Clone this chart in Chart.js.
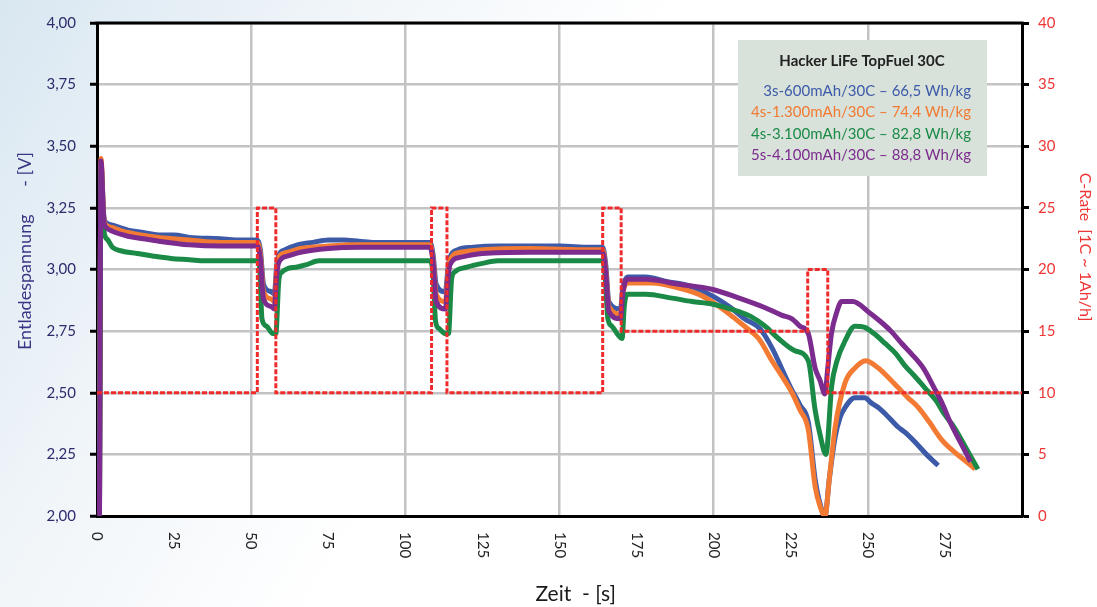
<!DOCTYPE html>
<html>
<head>
<meta charset="utf-8">
<script src="https://cdn.jsdelivr.net/npm/chart.js@4/dist/chart.umd.min.js"></script>
<style>
  html, body { margin: 0; padding: 0; background: #fff; }
  canvas { display: block; }
</style>
</head>
<body>
<canvas id="chart1" width="1097" height="607"></canvas>
<script>
// x tick labels (seconds)
const xTicks = [0, 25, 50, 75, 100, 125, 150, 175, 200, 225, 250, 275];

// [time s, voltage V]
const pack600 = [[0.8,2.0],[1.3,3.43],[2.2,3.22],[3,3.19],[5,3.18],[10,3.16],[15,3.15],[20,3.14],[25,3.14],[30,3.13],[40,3.125],[45,3.12],[52,3.12],
  [53,3.08],[54,2.94],[56.5,2.91],[57.5,2.90],[58.3,3.02],[59,3.06],[61,3.08],[65,3.10],[70,3.11],[75,3.12],[80,3.12],[85,3.115],[90,3.11],[100,3.11],[108,3.11],
  [109,3.06],[110,2.94],[113,2.91],[113.8,3.0],[114.5,3.05],[117,3.08],[122,3.09],[130,3.095],[140,3.095],[150,3.095],[160,3.09],[164,3.09],
  [165,3.02],[166,2.87],[169.8,2.84],[170.5,2.92],[172,2.97],[178,2.97],[185,2.95],[190,2.94],[195,2.92],[200,2.89],[205,2.85],[210,2.80],[215,2.76],
  [219,2.68],[222,2.60],[225,2.52],[228,2.45],[230.7,2.38],[232.9,2.15],[234.5,2.05],[236.1,2.0],[237.5,2.15],[239.4,2.32],[241,2.40],[242.6,2.44],
  [245.8,2.48],[249,2.48],[251,2.46],[253.4,2.44],[256,2.41],[259.9,2.36],[262,2.34],[265.3,2.30],[269,2.25],[272.8,2.205]];

const pack1300 = [[0.8,2.0],[1.3,3.45],[2.2,3.21],[3,3.18],[5,3.17],[10,3.15],[20,3.13],[30,3.12],[40,3.11],[52,3.11],
  [53,3.06],[54,2.91],[56.5,2.88],[57.5,2.87],[58.3,3.0],[59,3.05],[62,3.07],[66,3.085],[75,3.095],[85,3.10],[100,3.10],[108,3.10],
  [109,3.04],[110,2.90],[113,2.87],[113.8,2.98],[114.5,3.04],[118,3.07],[125,3.08],[140,3.085],[160,3.08],[164,3.08],
  [165,3.0],[166,2.85],[169.8,2.82],[170.5,2.90],[172,2.945],[180,2.945],[188.7,2.925],[195,2.90],[199.4,2.87],[204,2.83],[208,2.79],[211,2.76],
  [214.6,2.72],[218.9,2.63],[222,2.57],[225.4,2.50],[228,2.43],[230.7,2.35],[232.9,2.12],[234.5,2.04],[236.1,2.0],[237.5,2.15],[239.4,2.36],
  [242.6,2.54],[245.8,2.60],[249.3,2.63],[253.4,2.60],[256,2.57],[259.9,2.52],[263,2.48],[266.4,2.44],[270,2.38],[273.9,2.31],[278,2.26],[282,2.22],[284.8,2.19]];

const pack3100 = [[0.8,2.0],[1.3,3.40],[2.2,3.16],[3.5,3.12],[5,3.09],[8,3.075],[13,3.065],[18,3.055],[24,3.045],[30,3.04],[35,3.035],[52,3.035],
  [52.8,3.0],[53.5,2.80],[55,2.77],[57,2.74],[58,2.74],[59,2.96],[60,2.99],[62,3.005],[65,3.01],[68,3.02],[72,3.035],[80,3.035],[100,3.035],[108,3.035],
  [109,2.98],[109.8,2.79],[111,2.76],[113,2.74],[114,2.74],[115,2.96],[116,2.99],[120,3.01],[125,3.025],[130,3.035],[164,3.035],
  [164.8,2.97],[165.7,2.80],[167,2.77],[170.3,2.72],[171,2.85],[172,2.90],[178,2.90],[186.5,2.884],[193,2.87],[199.4,2.86],[204,2.845],[208,2.83],
  [212,2.81],[216.7,2.77],[221,2.72],[226.4,2.67],[230.7,2.63],[232.9,2.43],[234.5,2.33],[236.4,2.25],[238.3,2.53],[240,2.63],[242.6,2.71],
  [245.8,2.77],[249,2.765],[252,2.74],[255.6,2.70],[259,2.66],[262,2.61],[265,2.57],[268.5,2.52],[272,2.47],[275,2.41],[278,2.36],[280.3,2.31],[283,2.25],[285.7,2.19]];

const pack4100 = [[0.8,2.0],[1.3,3.44],[2.2,3.20],[3,3.17],[5,3.155],[10,3.135],[15,3.125],[20,3.115],[30,3.10],[40,3.095],[52,3.095],
  [53,3.04],[54,2.88],[56.5,2.85],[57.5,2.84],[58.3,2.98],[59,3.03],[62,3.055],[66,3.07],[75,3.085],[85,3.09],[100,3.09],[108,3.09],
  [109,3.03],[110,2.87],[113,2.84],[113.8,2.96],[114.5,3.02],[118,3.05],[125,3.065],[140,3.07],[160,3.07],[164,3.07],
  [165,2.99],[166,2.83],[169.8,2.80],[170.5,2.90],[172,2.96],[178,2.96],[188.7,2.94],[199.4,2.92],[208,2.885],[216.7,2.845],[222,2.815],
  [225.4,2.80],[228,2.77],[230.7,2.74],[232.9,2.60],[234.5,2.55],[236.1,2.495],[237,2.60],[238.2,2.74],[240,2.83],[241.5,2.87],[245.2,2.87],
  [250,2.83],[254,2.79],[257.5,2.75],[261,2.70],[264,2.66],[268,2.60],[271.5,2.52],[274,2.46],[276.9,2.375],[280,2.30],[283.3,2.22]];

// C-rate steps [time s, C] (value holds until next point)
const cRate = [[0,10],[52,25],[58,10],[108.5,25],[113.5,10],[164,25],[170,15],[230.5,20],[237,10],[300,10]];

const legendTitle = "Hacker LiFe TopFuel 30C";
const legendRows = [
  ["3s-600mAh/30C \u2013 66,5 Wh/kg", "#3c5aa8"],
  ["4s-1.300mAh/30C \u2013 74,4 Wh/kg", "#f27a32"],
  ["4s-3.100mAh/30C \u2013 82,8 Wh/kg", "#1b8a47"],
  ["5s-4.100mAh/30C \u2013 88,8 Wh/kg", "#7c2b8e"]
];

const FONT = "Lato, 'Open Sans', sans-serif";
const pts = a => a.map(p => ({x: p[0], y: p[1]}));

const frame = {
  id: "frame",
  beforeDraw(chart) {
    const c = chart.ctx, a = chart.chartArea;
    const g = c.createLinearGradient(0, 0, 500, 300);
    g.addColorStop(0, "#d9e7f1");
    g.addColorStop(0.5, "#f0f5f9");
    g.addColorStop(1, "#ffffff");
    c.save();
    c.fillStyle = g;
    c.fillRect(0, 0, chart.width, chart.height);
    c.fillStyle = "#ffffff";
    c.fillRect(a.left, a.top, a.right - a.left, a.bottom - a.top);
    c.restore();
  },
  beforeDatasetsDraw(chart) {
    const c = chart.ctx;
    c.save();
    c.fillStyle = "#d8e2da";
    c.fillRect(738, 40, 249, 136);
    c.textBaseline = "middle";
    c.textAlign = "center";
    c.fillStyle = "#222";
    c.font = "bold 15px " + FONT;
    c.fillText(legendTitle, 862, 61);
    c.textAlign = "right";
    c.font = "15px " + FONT;
    legendRows.forEach((r, i) => {
      c.fillStyle = r[1];
      c.fillText(r[0], 971, 91 + i * 21.5);
    });
    c.restore();
  },
  afterDraw(chart) {
    const c = chart.ctx, a = chart.chartArea, xs = chart.scales.x;
    c.save();
    c.strokeStyle = "#000";
    c.lineWidth = 3;
    c.beginPath();
    c.moveTo(a.left - 1.5, a.top);
    c.lineTo(a.right + 1.5, a.top);
    c.stroke();
    c.fillStyle = "#222";
    c.font = "15px " + FONT;
    c.textAlign = "left";
    c.textBaseline = "middle";
    xTicks.forEach(v => {
      c.save();
      c.translate(xs.getPixelForValue(v), a.bottom + 16);
      c.rotate(Math.PI / 2);
      c.fillText(String(v), 0, 0);
      c.restore();
    });
    c.restore();
  }
};

const line = (data, color) => ({
  data: pts(data), borderColor: color, borderWidth: 5, pointRadius: 0,
  fill: false, yAxisID: "y", cubicInterpolationMode: "monotone"
});

new Chart(document.getElementById("chart1"), {
  type: "line",
  data: {
    datasets: [
      { data: pts(cRate), yAxisID: "y2", stepped: true, borderColor: "#ef2b2b",
        borderWidth: 3, borderDash: [5, 2], pointRadius: 0, fill: false },
      line(pack4100, "#7c2b8e"),
      line(pack3100, "#1b8a47"),
      line(pack1300, "#f27a32"),
      line(pack600, "#3c5aa8")
    ]
  },
  options: {
    responsive: false,
    animation: false,
    devicePixelRatio: 1,
    layout: { padding: { top: 20, left: 0, right: 0, bottom: 0 } },
    plugins: { legend: { display: false }, tooltip: { enabled: false } },
    scales: {
      x: {
        type: "linear", min: 0, max: 300,
        afterFit: s => { s.height = 91; },
        ticks: { stepSize: 25, display: false },
        grid: {
          color: ctx => (ctx.tick && ctx.tick.value % 50 === 0 && ctx.tick.value > 0 && ctx.tick.value < 300) ? "#c3c3c5" : "rgba(0,0,0,0)",
          lineWidth: 2.5, borderDash: [6, 2], drawTicks: false
        },
        border: { display: true, color: "#000", width: 3 },
        title: { display: true, text: "      Zeit  - [s]", color: "#1a1a1a", font: { family: FONT, size: 21 }, padding: { top: 0, bottom: 0 } }
      },
      y: {
        position: "left", min: 2, max: 4,
        afterFit: s => { s.width = 97; },
        ticks: { stepSize: 0.25, color: "#2e2b6c", font: { family: FONT, size: 15 }, padding: 14,
          callback: v => v.toFixed(2).replace(".", ",") },
        grid: { color: "#c3c3c5", lineWidth: 2.5, borderDash: [6, 2], tickColor: "#000", tickLength: 7, tickWidth: 3, tickBorderDash: [] },
        border: { display: true, color: "#000", width: 3 },
        title: { display: true, text: "        Entladespannung      - [V]", color: "#3a3585", font: { family: FONT, size: 18 }, padding: { top: 14 } }
      },
      y2: {
        position: "right", min: 0, max: 40,
        afterFit: s => { s.width = 75; },
        ticks: { stepSize: 5, color: "#ef3636", font: { family: FONT, size: 15 }, padding: 9 },
        grid: { drawOnChartArea: false, color: "#000", tickColor: "#000", tickLength: 7, tickWidth: 3 },
        border: { display: true, color: "#000", width: 3 },
        title: { display: true, text: "C-Rate  [1C ~ 1Ah/h]           ", color: "#ef3636", font: { family: FONT, size: 16 }, padding: { top: 2 } }
      }
    }
  },
  plugins: [frame]
});
</script>
</body>
</html>
